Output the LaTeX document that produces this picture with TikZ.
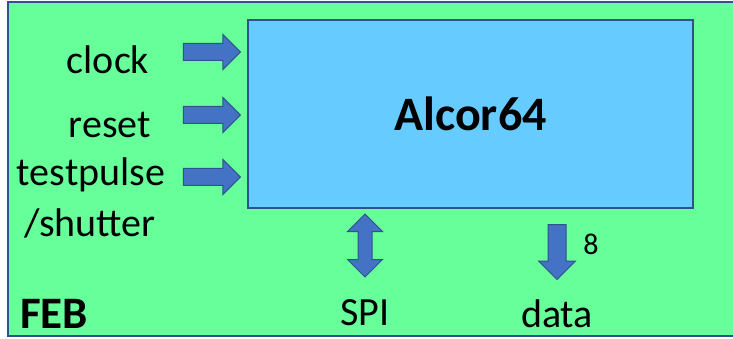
\documentclass[tikz,border=0pt]{standalone}
\usepackage{fontspec}
\setmainfont{Carlito}
\usetikzlibrary{positioning, shapes.arrows}

\definecolor{febgreen}{RGB}{102,255,153}
\definecolor{chipblue}{RGB}{102,204,255}
\definecolor{edgeblue}{RGB}{47,82,143}
\definecolor{arrowblue}{RGB}{68,114,196}

\begin{document}
\begin{tikzpicture}[x=1pt, y=-1pt,
		block/.style={draw=edgeblue, line width=2pt},
		sig/.style={font=\fontsize{40}{44}\selectfont, inner sep=0pt},
		inarrow/.style={single arrow, draw=edgeblue, fill=arrowblue, line width=1pt,
			inner xsep=0pt, inner ysep=8pt, minimum height=57pt,
			single arrow head extend=9pt, single arrow head indent=0pt},
		]
	\useasboundingbox (0,0) rectangle (733,339);
	
	% board and chip
	\draw[block, fill=febgreen] (8,2) rectangle (745,336);
	\node[block, fill=chipblue, minimum width=445pt, minimum height=188pt, inner sep=0pt]
		(Alcor) at (470.5,114) {\fontsize{48}{52}\selectfont\bfseries Alcor64};
	
	% inputs
	\node[inarrow, anchor=tip] (ClockArrow) at (241,52) {};
	\node[inarrow, anchor=tip] (ResetArrow) at (241,115) {};
	\node[inarrow, anchor=tip] (TestArrow)  at (241,177) {};
	
	\node[sig] (Clock) at (108,60) {clock};
	\node[sig] (Reset) at (110,125) {reset};
	\node[sig] (Test)  at (91,175) {testpulse};
	\node[sig] (Shutter) at (90,223) {/shutter};
	
	% outputs
	\node[double arrow, draw=edgeblue, fill=arrowblue, line width=1pt, rotate=90,
		inner xsep=0pt, inner ysep=6.5pt, minimum height=63pt,
		double arrow head extend=10.5pt, double arrow head indent=0pt]
		(SPIArrow) at (365,245.5) {};
	\node[inarrow, rotate=-90, anchor=tail, inner ysep=8.5pt, minimum height=55pt,
		single arrow head extend=9.5pt] (DataArrow) at (557,224) {};
	
	\node[sig] (SPI)  at (365,313) {SPI};
	\node[sig] (Data) at (557,314) {data};
	\node[sig, font=\fontsize{30}{34}\selectfont] (Width) at (591,244) {8};
	
	\node[sig, font=\fontsize{45}{49}\selectfont\bfseries] (FEB) at (54,314) {FEB};
\end{tikzpicture}
\end{document}
